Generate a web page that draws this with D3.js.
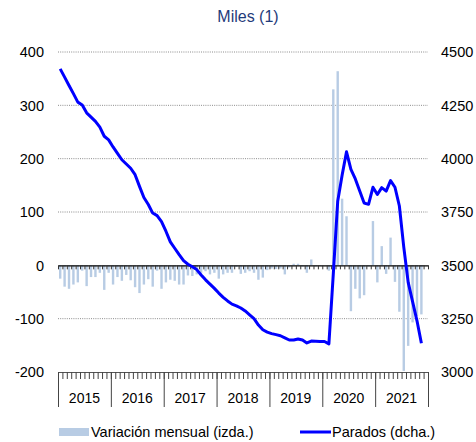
<!DOCTYPE html>
<html>
<head>
<meta charset="utf-8">
<script src="https://cdn.jsdelivr.net/npm/d3@7"></script>
<style>
  body { margin: 0; background: #fff; }
  svg { font-family: "Liberation Sans", Arial, sans-serif; }
</style>
</head>
<body>
<svg id="chart" viewBox="0 0 476 442" width="476" height="442"></svg>
<script>
// years on the x axis (2021 runs to november)
const years = ["2015", "2016", "2017", "2018", "2019", "2020", "2021"];

// monthly change, thousands (left axis)
const variacion = [
  -25, -40, -44, -36, -32, -10, -39, -22, -22, -14, -46, -14,
  -36, -22, -29, -18, -28, -41, -52, -36, -26, -40, -10, -44,
  -32, -27, -29, -36, -36, -19, -20, -17, -14, -11, -17, -14,
  -25, -17, -14, -14, -3, -16, -14, -11, -14, -27, -23, -9,
  -6, -7, -6, -17, -4, 3, 3, -2, -14, 11, -2, -1,
  0, -10, 330, 364, 125, 92, -86, -44, -62, -56, -2, 83,
  -32, 36, -16, 52, -31, -87, -198, -151, -107, -95, -92
];

// unemployed, thousands (right axis)
const parados = [
  4421, 4382, 4343, 4305, 4265, 4252, 4215, 4195, 4175, 4148, 4105, 4088,
  4055, 4025, 3995, 3975, 3955, 3925, 3870, 3818, 3785, 3745, 3733, 3705,
  3660, 3610, 3580, 3550, 3522, 3505, 3493, 3480, 3455, 3432, 3412, 3392,
  3370, 3350, 3333, 3318, 3310, 3300, 3286, 3268, 3250, 3220, 3198, 3187,
  3180, 3175, 3170, 3160, 3150, 3150, 3155, 3150, 3136, 3145, 3144, 3143,
  3143, 3132, 3460, 3800, 3922, 4032, 3950, 3905, 3848, 3792, 3786, 3866,
  3832, 3864, 3848, 3897, 3866, 3778, 3585, 3420, 3330, 3240, 3135
];

const leftTicks = [400, 300, 200, 100, 0, -100, -200];
const rightTicks = [4500, 4250, 4000, 3750, 3500, 3250, 3000];

const margins = { left: 58, right: 48, top: 52, bottom: 70 };
const svgWidth = 476;
const svgHeight = 442;
const plotRight = svgWidth - margins.right;
const plotBottom = svgHeight - margins.bottom;

const svgSel = d3.select("#chart");

// one band per month, jan 2015 .. dec 2021
const months = years.flatMap((y) => d3.range(12).map((m) => `${y}-${m + 1}`));

const xScale = d3
  .scaleBand()
  .domain(months)
  .range([margins.left, plotRight])
  .padding(0);

// linear version of x, used for ticks on month borders
const xIdx = d3
  .scaleLinear()
  .domain([0, months.length])
  .range([margins.left, plotRight]);

const yLeft = d3
  .scaleLinear()
  .domain([-200, 400])
  .range([plotBottom, margins.top]);

const yRight = d3
  .scaleLinear()
  .domain([3000, 4500])
  .range([plotBottom, margins.top]);

// dotted grid
svgSel
  .append("g")
  .selectAll("line")
  .data(leftTicks.filter((d) => d !== 0 && d !== -200))
  .enter()
  .append("line")
  .attr("x1", margins.left)
  .attr("x2", plotRight)
  .attr("y1", (d) => yLeft(d))
  .attr("y2", (d) => yLeft(d))
  .attr("stroke", "#8c8c8c")
  .attr("stroke-width", 1)
  .attr("stroke-dasharray", "1 1.2");

// bars
const barW = 2.4;
svgSel
  .append("g")
  .selectAll("rect")
  .data(variacion)
  .enter()
  .append("rect")
  .attr("x", (d, i) => xScale(months[i]) + xScale.bandwidth() / 2 - barW / 2)
  .attr("y", (d) => Math.min(yLeft(d), yLeft(0)))
  .attr("width", barW)
  .attr("height", (d) => Math.abs(yLeft(d) - yLeft(0)))
  .attr("fill", "#b8cce4");

// zero line with month ticks
const zeroAxis = d3
  .axisBottom(xIdx)
  .tickValues(d3.range(0, months.length + 1))
  .tickSize(4)
  .tickSizeOuter(0)
  .tickFormat("");

const zeroG = svgSel
  .append("g")
  .attr("transform", `translate(0 ${yLeft(0)})`)
  .call(zeroAxis);
zeroG.select("path").attr("stroke", "#000").attr("stroke-width", 1.2);
zeroG.selectAll("line").attr("stroke", "#333");

// bottom axis: month ticks
const bottomAxis = d3
  .axisBottom(xIdx)
  .tickValues(d3.range(0, months.length + 1))
  .tickSize(7)
  .tickSizeOuter(0)
  .tickFormat("");

const bottomG = svgSel
  .append("g")
  .attr("transform", `translate(0 ${plotBottom})`)
  .call(bottomAxis);
bottomG.select("path").attr("stroke", "#555");
bottomG.selectAll("line").attr("stroke", "#444");

// year separators
const yearAxis = d3
  .axisBottom(xIdx)
  .tickValues(d3.range(0, months.length + 1, 12))
  .tickSize(35)
  .tickSizeOuter(0)
  .tickFormat("");

const yearG = svgSel
  .append("g")
  .attr("transform", `translate(0 ${plotBottom})`)
  .call(yearAxis);
yearG.select("path").remove();
yearG.selectAll("line").attr("stroke", "#444");

svgSel
  .append("g")
  .selectAll("text")
  .data(years)
  .enter()
  .append("text")
  .attr("x", (d, i) => xIdx(i * 12 + 6))
  .attr("y", plotBottom + 31)
  .attr("text-anchor", "middle")
  .style("font-size", "14px")
  .style("fill", "#000")
  .text((d) => d);

// left and right tick labels
svgSel
  .append("g")
  .selectAll("text")
  .data(leftTicks)
  .enter()
  .append("text")
  .attr("x", 44)
  .attr("y", (d) => yLeft(d))
  .attr("dy", "0.36em")
  .attr("text-anchor", "end")
  .style("font-size", "14.5px")
  .text((d) => d);

svgSel
  .append("g")
  .selectAll("text")
  .data(rightTicks)
  .enter()
  .append("text")
  .attr("x", 441)
  .attr("y", (d) => yRight(d))
  .attr("dy", "0.36em")
  .attr("text-anchor", "start")
  .style("font-size", "14.5px")
  .text((d) => d);

// parados line
const line = d3
  .line()
  .x((d, i) => xScale(months[i]) + xScale.bandwidth() / 2)
  .y((d) => yRight(d));

svgSel
  .append("path")
  .datum(parados)
  .attr("d", line)
  .attr("fill", "none")
  .attr("stroke", "#0000ff")
  .attr("stroke-width", 3)
  .attr("stroke-linejoin", "round");

// title
svgSel
  .append("text")
  .attr("x", 248)
  .attr("y", 22)
  .attr("text-anchor", "middle")
  .style("font-size", "16px")
  .style("fill", "#1f3b7a")
  .text("Miles (1)");

// legend
const legendG = svgSel.append("g").attr("transform", "translate(0 432)");

legendG
  .append("rect")
  .attr("x", 59)
  .attr("y", -4)
  .attr("width", 30)
  .attr("height", 8)
  .attr("fill", "#b8cce4");

legendG
  .append("text")
  .attr("x", 91)
  .attr("y", 0)
  .attr("dy", "0.36em")
  .style("font-size", "14.5px")
  .text("Variación mensual (izda.)");

legendG
  .append("line")
  .attr("x1", 300)
  .attr("x2", 331)
  .attr("y1", 0)
  .attr("y2", 0)
  .attr("stroke", "#0000ff")
  .attr("stroke-width", 3);

legendG
  .append("text")
  .attr("x", 332)
  .attr("y", 0)
  .attr("dy", "0.36em")
  .style("font-size", "14.5px")
  .text("Parados (dcha.)");
</script>
</body>
</html>
